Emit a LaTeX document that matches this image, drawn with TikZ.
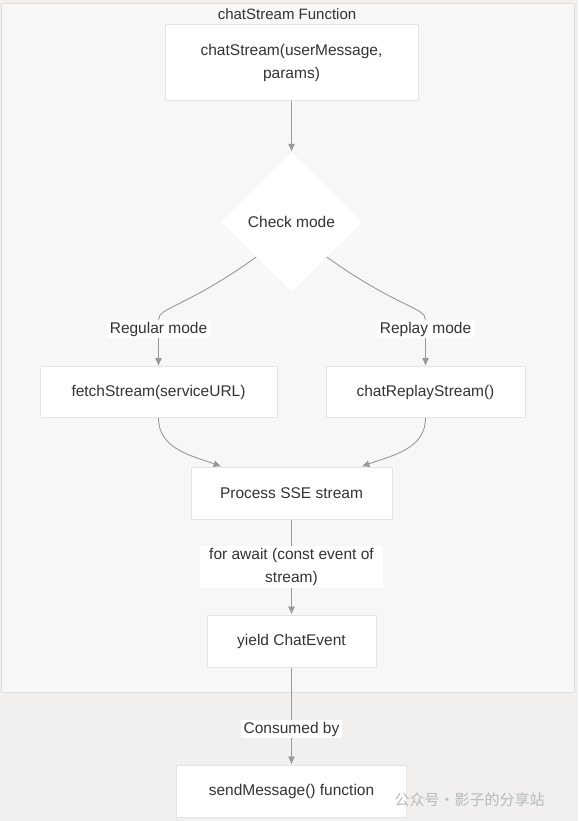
\documentclass[tikz,border=0pt]{standalone}
\usepackage{fontspec}
\setmainfont{Liberation Sans}
\newfontfamily\cjkfont{Noto Sans CJK SC}
\usepackage{tikz}
\usetikzlibrary{arrows.meta,shapes.geometric,positioning}
\usepackage{xcolor}
\definecolor{pagebg}{RGB}{241,240,238}
\definecolor{clusterbg}{RGB}{247,247,247}
\definecolor{clusterline}{RGB}{222,222,222}
\definecolor{boxline}{RGB}{228,228,228}
\definecolor{edgegray}{RGB}{153,153,153}
\definecolor{textgray}{RGB}{51,51,51}
\definecolor{markgray}{RGB}{185,185,185}
\tikzstyle{arrow} = [line width=0.9pt,-{Latex[length=8pt,width=7pt]},color=edgegray]
\tikzstyle{line} = [line width=0.9pt,color=edgegray]

\begin{document}
\begin{tikzpicture}[x=1pt, y=-1pt,
    box/.style={rectangle, draw=boxline, line width=1pt, fill=white, text=textgray, align=center, font=\fontsize{15.5}{23}\selectfont},
    decision/.style={diamond, fill=white, text=textgray, inner sep=0pt, minimum width=141pt, minimum height=140pt, font=\fontsize{15.5}{23}\selectfont},
    edgelabel/.style={rectangle, fill=white, text=textgray, inner xsep=3pt, inner ysep=2pt, align=center, font=\fontsize{15.5}{23}\selectfont}]

% Background and cluster
\fill[pagebg] (0,0) rectangle (578,821);
\useasboundingbox (0,0) rectangle (578,821);
\draw[clusterline, fill=clusterbg, line width=1pt] (1.5,4) rectangle (574,692);
\node[text=textgray, font=\fontsize{15}{18}\selectfont] (title) at (287,14) {chatStream Function};

% Main flow
\node[box, minimum width=253pt, minimum height=76pt] (entry) at (291.5,63) {chatStream(userMessage,\\params)};
\node[decision] (check) at (291.5,222) {Check mode};

% Branches
\node[box, minimum width=237pt, minimum height=51pt] (fetch) at (158.5,392) {fetchStream(serviceURL)};
\node[box, minimum width=199pt, minimum height=51pt] (replay) at (425.5,392) {chatReplayStream()};
\node[edgelabel] (regular) at (158.5,329) {Regular mode};
\node[edgelabel] (replaymode) at (425.5,329) {Replay mode};

% Stream handling
\node[box, minimum width=201pt, minimum height=52pt] (process) at (291.5,493) {Process SSE stream};
\node[edgelabel, inner xsep=9pt] (loop) at (291.5,567) {for await (const event of\\stream)};
\node[box, minimum width=169pt, minimum height=52pt] (yield) at (291.5,641) {yield ChatEvent};

% Consumer
\node[edgelabel] (consumed) at (291.5,729) {Consumed by};
\node[box, minimum width=230pt, minimum height=52pt] (send) at (291.5,791) {sendMessage() function};

% Connections
\draw[arrow] (entry) -- (check);
\draw[line] (check.south west) .. controls +(-70,50) and +(0,-12) .. (regular.north);
\draw[arrow] (regular) -- (fetch);
\draw[line] (check.south east) .. controls +(70,50) and +(0,-12) .. (replaymode.north);
\draw[arrow] (replaymode) -- (replay);
\draw[arrow] (fetch.south) to[out=-90,in=160] ([xshift=31pt]process.north west);
\draw[arrow] (replay.south) to[out=-90,in=20] ([xshift=-31pt]process.north east);
\draw[line] (process) -- (loop);
\draw[arrow] (loop) -- (yield);
\draw[line] (yield) -- (consumed);
\draw[arrow] (consumed) -- (send);

% Watermark
\node[text=markgray, font=\cjkfont\fontsize{15}{18}\selectfont, anchor=west] (mark) at (391,800) {公众号·影子的分享站};
\end{tikzpicture}
\end{document}
